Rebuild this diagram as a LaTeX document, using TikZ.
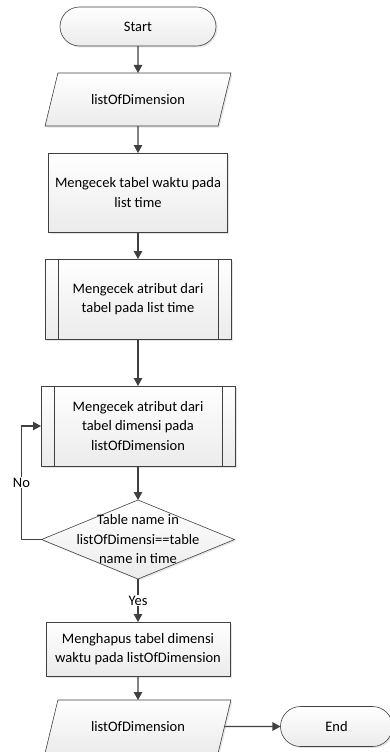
\documentclass[tikz,border=0pt]{standalone}
\usepackage{fontspec}
\setmainfont{Carlito}
\usepackage{tikz}
\usetikzlibrary{arrows.meta,shapes,shapes.geometric,shapes.misc,positioning,shadows}

\definecolor{linecol}{HTML}{404040}
\definecolor{boxfill}{HTML}{EBEBEB}

\begin{document}
\begin{tikzpicture}[>={Triangle[length=8pt,width=8.5pt]},font=\fontsize{14.5}{19.5}\selectfont,align=center]
    \tikzstyle{base}=[draw=linecol,semithick,top color=white,bottom color=boxfill,outer sep=0pt,inner sep=2pt,
    drop shadow={shadow xshift=1.5pt,shadow yshift=-1.5pt,fill=black!20}]
    \tikzstyle{terminal}=[base,rounded rectangle,minimum width=160pt,minimum height=39pt]
    \tikzstyle{io}=[base,trapezium,trapezium left angle=61,trapezium right angle=119,
    trapezium stretches=true,minimum width=186pt,minimum height=53pt]
    \tikzstyle{process}=[base,rectangle,minimum width=179pt,minimum height=79pt]
    \tikzstyle{subproc}=[base,rectangle,minimum width=186pt,minimum height=80pt]
    \tikzstyle{decision}=[base,diamond,minimum width=193pt,minimum height=79pt,inner sep=0pt]
    \tikzstyle{flow}=[->,draw=linecol,line width=1.2pt]

    \useasboundingbox (0,0) rectangle (389pt,-752pt);

    \node [terminal] (start) at (138pt,-26.5pt) {Start};
    \node [io] (input) [below=27pt of start] {listOfDimension};
    \node [process] (cektime) [below=27pt of input] {Mengecek tabel waktu pada\\list time};
    \node [subproc] (cekatr) [below=27pt of cektime] {Mengecek atribut dari\\tabel pada list time};
    \node [subproc,minimum width=194pt] (cekdim) [below=47pt of cekatr] {Mengecek atribut dari\\tabel dimensi pada\\listOfDimension};
    \node [decision] (samename) [below=34pt of cekdim,
      label={[align=center]center:Table name in\\listOfDimensi==table\\name in time}] {};
    \node [process,minimum width=184pt,minimum height=54pt] (hapus) [below=43pt of samename] {Menghapus tabel dimensi\\waktu pada listOfDimension};
    \node [io] (output) [below=24pt of hapus] {listOfDimension};
    \node [terminal,minimum width=116pt,minimum height=40pt] (end) [right=56pt of output] {End};

    % double side lines of the sub processes
    \foreach \n in {cekatr,cekdim} {
      \draw [linecol,semithick] ([xshift=13pt]\n.north west) -- ([xshift=13pt]\n.south west);
      \draw [linecol,semithick] ([xshift=-13pt]\n.north east) -- ([xshift=-13pt]\n.south east);
    }

    \path (start) edge [flow] (input);
    \path (input) edge [flow] (cektime);
    \path (cektime) edge [flow] (cekatr);
    \path (cekatr) edge [flow] (cekdim);
    \path (cekdim) edge [flow] (samename);
    \draw [flow] (samename.west) -- ++(-20pt,0) |- node[pos=0.25,fill=white,inner sep=1pt] {No} (cekdim.west);
    \draw [flow] (samename.south) -- node[midway,fill=white,inner sep=1pt] {Yes} (hapus.north);
    \path (hapus) edge [flow] (output);
    \path (output) edge [flow] (end);

  \end{tikzpicture}
\end{document}
